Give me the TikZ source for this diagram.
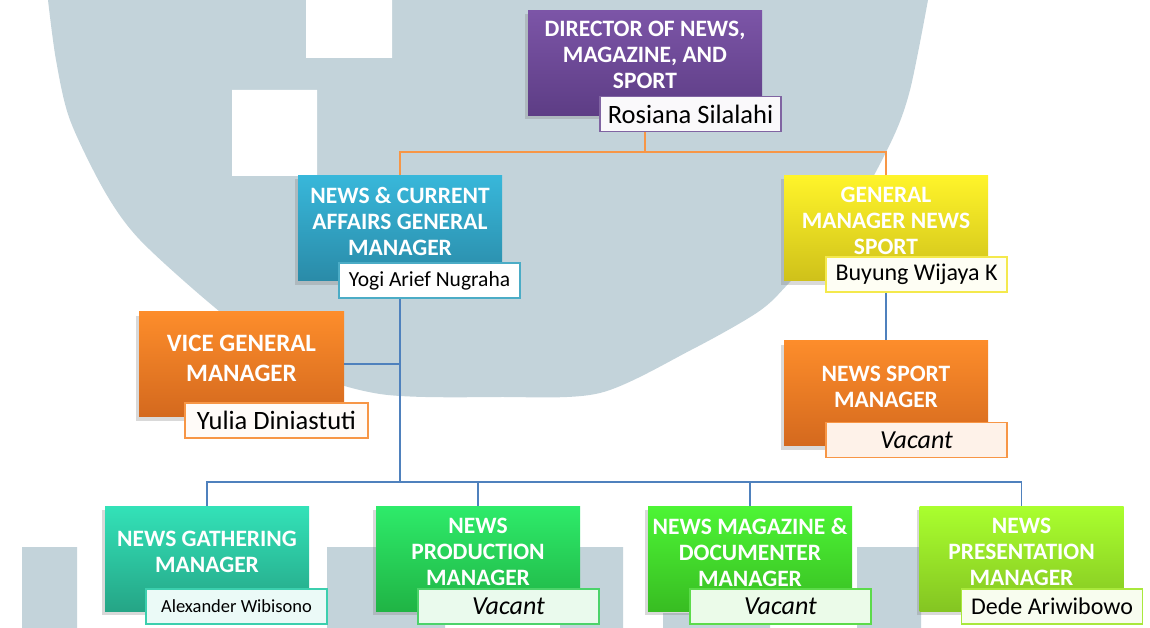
\documentclass[tikz,border=0pt]{standalone}
\usepackage{fontspec}
\setmainfont{Carlito}
\usetikzlibrary{shadows}

\begin{document}
\begin{tikzpicture}[x=1pt, y=-1pt,
  post/.style={minimum width=204pt, minimum height=105pt, inner sep=0pt,
    drop shadow={shadow xshift=-3pt, shadow yshift=-4pt, opacity=.3}},
  posttitle/.style={text=white, align=center, inner sep=0pt,
    font=\fontsize{23.5}{26}\selectfont\bfseries},
  namebox/.style={minimum width=181pt, minimum height=35pt, inner sep=0pt,
    line width=1.5pt, font=\fontsize{24}{26}\selectfont},
  orgline/.style={draw=lineorange, line width=1.6pt},
  subline/.style={draw=lineblue, line width=1.6pt}]
\useasboundingbox (0,0) rectangle (1150,628);
\definecolor{wmark}{HTML}{C3D3DA}
\definecolor{lineorange}{HTML}{F79646}
\definecolor{lineblue}{HTML}{4F81BD}
\definecolor{dirtop}{HTML}{7C55A7}
\definecolor{dirbot}{HTML}{5D3D85}
\definecolor{dirline}{HTML}{8064A2}
\definecolor{cyantop}{HTML}{38B7DA}
\definecolor{cyanbot}{HTML}{2A8BA8}
\definecolor{cyanline}{HTML}{4BACC6}
\definecolor{yeltop}{HTML}{FFF42A}
\definecolor{yelbot}{HTML}{CFC11A}
\definecolor{yelline}{HTML}{F4E94C}
\definecolor{orgtop}{HTML}{FD8D2B}
\definecolor{orgbot}{HTML}{D4691E}
\definecolor{orgline}{HTML}{F79646}
\definecolor{tealtop}{HTML}{33E2B8}
\definecolor{tealbot}{HTML}{25A586}
\definecolor{tealline}{HTML}{3CCFAE}
\definecolor{grntop}{HTML}{2EEB6A}
\definecolor{grnbot}{HTML}{20B445}
\definecolor{grnline}{HTML}{4CD36A}
\definecolor{limtop}{HTML}{4DF535}
\definecolor{limbot}{HTML}{38BD22}
\definecolor{limline}{HTML}{5CDB4A}
\definecolor{chtop}{HTML}{AAFF2E}
\definecolor{chbot}{HTML}{84C522}
\definecolor{chline}{HTML}{A9E83C}

% watermark
\fill[wmark] plot[smooth] coordinates {(48,0) (56,60) (70,120) (105,192) (140,240)
  (213,306) (290,365) (380,394) (500,397) (600,393) (691,350) (758,312) (789,283)
  (850,215) (891,142) (910,90) (928,0)} -- cycle;
\fill[white] (306,0) rectangle (392,58) (232,90) rectangle (317,176);
\fill[wmark] (22,547) rectangle (77,628) (327,547) rectangle (445,628)
  (560,547) rectangle (623,628) (663,613) rectangle (770,628) (857,547) rectangle (921,628);

% director
\node[post, minimum width=234pt, top color=dirtop, bottom color=dirbot] (dir) at (645,63) {};
\node[posttitle] (dirtitle) at (645,55) {DIRECTOR OF NEWS,\\MAGAZINE, AND\\SPORT};
\node[namebox, draw=dirline, fill=dirline!4!white, font=\fontsize{26.5}{26}\selectfont] (dirname) at (690.5,114) {Rosiana Silalahi};

% general managers
\node[post, top color=cyantop, bottom color=cyanbot] (nca) at (400,228) {};
\node[posttitle] (ncatitle) at (400,221) {NEWS \& CURRENT\\AFFAIRS GENERAL\\MANAGER};
\node[namebox, draw=cyanline, fill=white, font=\fontsize{21.5}{26}\selectfont] (ncaname) at (429.5,280.5) {Yogi Arief Nugraha};

\node[post, top color=yeltop, bottom color=yelbot] (gmns) at (886,228) {};
\node[posttitle] (gmnstitle) at (886,221) {GENERAL\\MANAGER NEWS\\SPORT};
\node[namebox, draw=yelline, fill=yelline!6!white] (gmnsname) at (916.5,274.5) {Buyung Wijaya K};

% vice and sport
\node[post, minimum width=205pt, top color=orgtop, bottom color=orgbot] (vgm) at (241.5,364) {};
\node[posttitle, font=\fontsize{25}{30}\selectfont\bfseries] (vgmtitle) at (241.5,358) {VICE GENERAL\\MANAGER};
\node[namebox, minimum width=183pt, draw=orgline, fill=orgline!4!white, font=\fontsize{26.5}{26}\selectfont] (vgmname) at (276.5,420.5) {Yulia Diniastuti};

\node[post, top color=orgtop, bottom color=orgbot] (nsm) at (886,393) {};
\node[posttitle] (nsmtitle) at (886,387) {NEWS SPORT\\MANAGER};
\node[namebox, draw=orgline, fill=orgline!12!white, font=\fontsize{26}{26}\selectfont\itshape] (nsmname) at (916.5,440) {Vacant};

% managers
\node[post, top color=tealtop, bottom color=tealbot] (ngm) at (207,558.5) {};
\node[posttitle] (ngmtitle) at (207,551.5) {NEWS GATHERING\\MANAGER};
\node[namebox, draw=tealline, fill=tealline!10!white, font=\fontsize{18.5}{26}\selectfont] (ngmname) at (236.5,606.5) {Alexander Wibisono};

\node[post, top color=grntop, bottom color=grnbot] (npm) at (478,558.5) {};
\node[posttitle] (npmtitle) at (478,552) {NEWS\\PRODUCTION\\MANAGER};
\node[namebox, draw=grnline, fill=grnline!12!white, font=\fontsize{26}{26}\selectfont\itshape] (npmname) at (508.5,606.5) {Vacant};

\node[post, top color=limtop, bottom color=limbot] (nmd) at (750,558.5) {};
\node[posttitle] (nmdtitle) at (750,552) {NEWS MAGAZINE \&\\DOCUMENTER\\MANAGER};
\node[namebox, draw=limline, fill=limline!12!white, font=\fontsize{26}{26}\selectfont\itshape] (nmdname) at (780.5,606.5) {Vacant};

\node[post, top color=chtop, bottom color=chbot] (npr) at (1021.5,558.5) {};
\node[posttitle] (nprtitle) at (1021.5,552) {NEWS\\PRESENTATION\\MANAGER};
\node[namebox, draw=chline, fill=chline!8!white] (nprname) at (1052,606.5) {Dede Ariwibowo};

% connectors
\draw[orgline] (dir.south |- dirname.south) -- ++(0,20) coordinate (dirfork);
\draw[orgline] (dirfork) -| (nca.north);
\draw[orgline] (dirfork) -| (gmns.north);
\draw[subline] (nca.south |- ncaname.south) -- ++(0,183) coordinate (bus);
\draw[subline] (vgm.east) -- (vgm.east -| nca.south);
\draw[subline] (gmns.south |- gmnsname.south) -- (nsm.north);
\draw[subline] (bus) -| (ngm.north);
\draw[subline] (bus) -| (npm.north);
\draw[subline] (bus) -| (nmd.north);
\draw[subline] (bus) -| (npr.north);
\end{tikzpicture}
\end{document}
